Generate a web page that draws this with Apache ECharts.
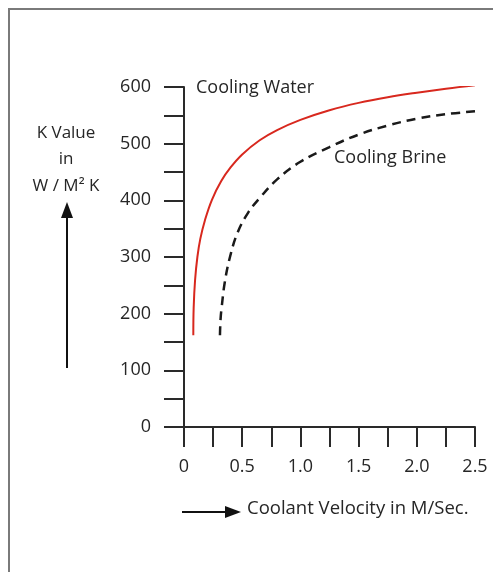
<!DOCTYPE html>
<html>
<head>
<meta charset="utf-8">
<script src="https://cdn.jsdelivr.net/npm/echarts@6/dist/echarts.min.js"></script>
<style>
html,body{margin:0;padding:0;background:#fff;}
#chart{width:493px;height:572px;}
</style>
</head>
<body>
<div id="chart"></div>
<script>
// Data
var waterX = [0.080, 0.083, 0.095, 0.115, 0.14, 0.18, 0.24, 0.32, 0.4, 0.5, 0.65, 0.8, 1.0, 1.25, 1.5, 1.75, 2.0, 2.25, 2.5];
var waterY = [162, 210, 259, 300, 332, 365, 401, 434, 458, 481, 506, 524, 542, 559, 572, 582, 590, 597, 603];
var brineX = [0.309, 0.314, 0.324, 0.35, 0.395, 0.46, 0.55, 0.65, 0.8, 1.0, 1.25, 1.5, 1.75, 2.0, 2.25, 2.5];
var brineY = [162, 190, 212, 255, 300, 343, 378, 404, 437, 468, 494, 516, 532, 544, 552, 557];
var xTickLabels = ['0', '0.5', '1.0', '1.5', '2.0', '2.5'];
var yTickLabels = ['0', '100', '200', '300', '400', '500', '600'];

function pairs(xs, ys) { return xs.map(function (x, i) { return [x, ys[i]]; }); }

var FONT = 'Open Sans';
var TXT = '#262626';
var AX = '#2a2a2a';

var chart = echarts.init(document.getElementById('chart'), null, { renderer: 'canvas' });
chart.setOption({
  backgroundColor: '#fff',
  animation: false,
  grid: { left: 184, right: 18, top: 87, bottom: 145, containLabel: false },
  xAxis: {
    type: 'value', min: 0, max: 2.5, interval: 0.5,
    axisLine: { show: true, lineStyle: { color: AX, width: 2 } },
    axisTick: { show: true, inside: false, length: 20, lineStyle: { color: AX, width: 2 } },
    minorTick: { show: true, splitNumber: 2, length: 20, lineStyle: { color: AX, width: 2 } },
    splitLine: { show: false },
    axisLabel: {
      margin: 31, fontFamily: FONT, fontSize: 18, color: TXT,
      formatter: function (v) { return xTickLabels[Math.round(v / 0.5)]; }
    }
  },
  yAxis: {
    type: 'value', min: 0, max: 600, interval: 100,
    axisLine: { show: true, lineStyle: { color: AX, width: 2 } },
    axisTick: { show: true, inside: false, length: 20, lineStyle: { color: AX, width: 2 } },
    minorTick: { show: true, splitNumber: 2, length: 20, lineStyle: { color: AX, width: 2 } },
    splitLine: { show: false },
    axisLabel: {
      margin: 33, fontFamily: FONT, fontSize: 18, color: TXT,
      formatter: function (v) { return yTickLabels[Math.round(v / 100)]; }
    }
  },
  series: [
    {
      name: 'Cooling Water', type: 'line', smooth: 0.4, showSymbol: false,
      data: pairs(waterX, waterY),
      lineStyle: { color: '#d8281e', width: 2 }
    },
    {
      name: 'Cooling Brine', type: 'line', smooth: 0.4, showSymbol: false,
      data: pairs(brineX, brineY),
      lineStyle: { color: '#1a1a1a', width: 2.5, type: [9, 6] }
    }
  ],
  graphic: [
    { type: 'polyline', shape: { points: [[9, 572], [9, 9], [493, 9]] }, style: { stroke: '#7a7a7a', lineWidth: 2, fill: null } },
    { type: 'text', left: 196, top: 79, style: { text: 'Cooling Water', font: '18px "Open Sans"', fill: TXT } },
    { type: 'text', left: 334, top: 149, style: { text: 'Cooling Brine', font: '18px "Open Sans"', fill: TXT } },
    { type: 'text', x: 66, y: 133, style: { text: 'K Value', font: '17px "Open Sans"', fill: TXT, align: 'center', verticalAlign: 'middle' } },
    { type: 'text', x: 66, y: 159, style: { text: 'in', font: '17px "Open Sans"', fill: TXT, align: 'center', verticalAlign: 'middle' } },
    { type: 'text', x: 66, y: 186, style: { text: 'W / M² K', font: '17px "Open Sans"', fill: TXT, align: 'center', verticalAlign: 'middle' } },
    { type: 'line', shape: { x1: 67, y1: 368, x2: 67, y2: 212 }, style: { stroke: '#111', lineWidth: 2 } },
    { type: 'polygon', shape: { points: [[67, 202], [61, 218], [73, 218]] }, style: { fill: '#111' } },
    { type: 'line', shape: { x1: 182, y1: 512, x2: 230, y2: 512 }, style: { stroke: '#111', lineWidth: 2 } },
    { type: 'polygon', shape: { points: [[241, 512], [225, 506], [225, 518]] }, style: { fill: '#111' } },
    { type: 'text', left: 247, top: 499, style: { text: 'Coolant Velocity in M/Sec.', font: '18.5px "Open Sans"', fill: TXT } }
  ]
});
</script>
</body>
</html>
